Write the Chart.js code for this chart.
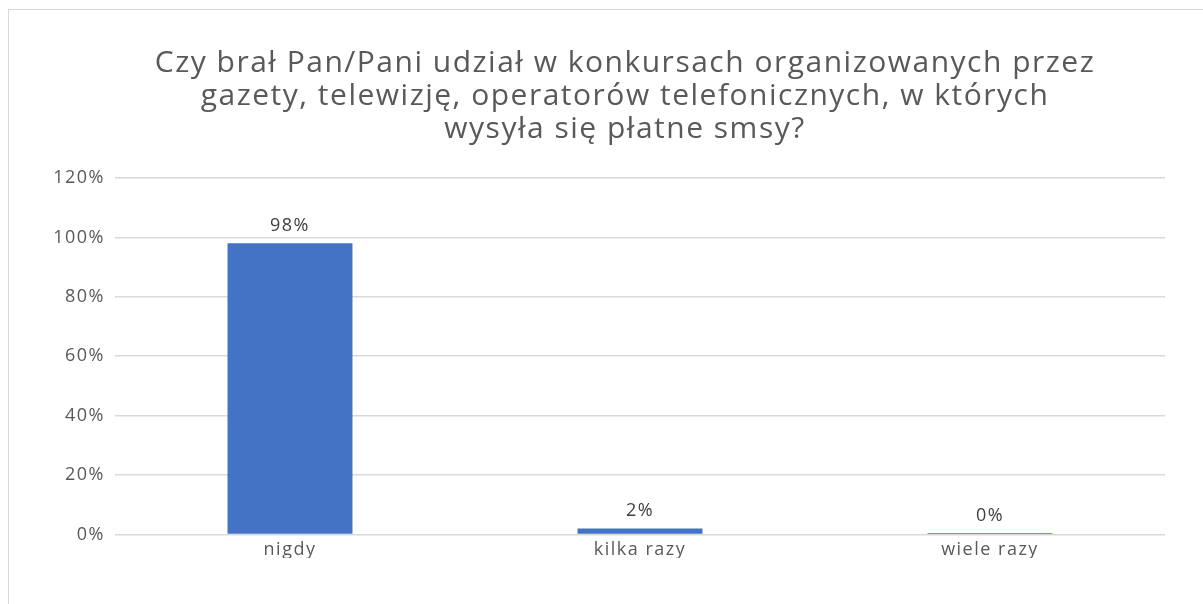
<!DOCTYPE html>
<html>
<head>
<meta charset="utf-8">
<script src="https://cdn.jsdelivr.net/npm/chart.js@4"></script>
<style>
    html, body { margin: 0; padding: 0; background: #fff; overflow: hidden; }
    .chart-frame {
        position: absolute; left: 8px; top: 9px;
        width: 1235px; height: 620px;
        border: 1px solid #d9d9d9;
    }
</style>
</head>
<body>
<div class="chart-frame">
    <canvas id="smsChart" width="1235" height="620"></canvas>
</div>

<script>
const titleLines = [
    'Czy brał Pan/Pani udział w konkursach organizowanych przez',
    'gazety, telewizję, operatorów telefonicznych, w których',
    'wysyła się płatne smsy?'
];
const categories = ['nigdy', 'kilka razy', 'wiele razy'];
const shares = [0.98, 0.02, 0.005];
const shareLabels = ['98%', '2%', '0%'];

const FONT = '"Open Sans", sans-serif';
const GREY = '#595959';

// Excel text is set a bit looser than Open Sans
const looseText = {
    id: 'looseText',
    beforeUpdate(chart) { chart.ctx.letterSpacing = '1.5px'; },
    beforeDraw(chart) { chart.ctx.letterSpacing = '1.5px'; }
};

// draws the value above each bar, like Excel data labels
const valueLabels = {
    id: 'valueLabels',
    afterDatasetsDraw(chart) {
        const ctx = chart.ctx;
        const meta = chart.getDatasetMeta(0);
        ctx.save();
        ctx.font = '18px ' + FONT;
        ctx.fillStyle = '#404040';
        ctx.textAlign = 'center';
        ctx.textBaseline = 'alphabetic';
        meta.data.forEach(function(bar, i) {
            ctx.fillText(shareLabels[i], bar.x, bar.y - 12);
        });
        ctx.restore();
    }
};

const ctx = document.getElementById('smsChart').getContext('2d');
new Chart(ctx, {
    type: 'bar',
    data: {
        labels: categories,
        datasets: [{
            data: shares,
            backgroundColor: '#4472c4',
            categoryPercentage: 1,
            barPercentage: 0.357
        }]
    },
    options: {
        responsive: false,
        animation: false,
        layout: { padding: { left: 44, right: 47, top: 0, bottom: 72 } },
        scales: {
            x: {
                grid: { display: false },
                border: { display: false },
                ticks: { color: GREY, font: { family: FONT, size: 18 }, padding: -3 }
            },
            y: {
                min: 0,
                max: 1.2,
                grid: { color: '#d9d9d9', lineWidth: 1.5, drawTicks: false },
                border: { display: false },
                afterFit: function(scale) { scale.width = 62; },
                ticks: {
                    stepSize: 0.2,
                    padding: 10,
                    color: GREY,
                    font: { family: FONT, size: 18 },
                    callback: function(value) {
                        return Math.round(value * 100) + '%';
                    }
                }
            },
            // empty spacer on the right so the title sits centred on the frame
            spacer: {
                type: 'linear',
                position: 'right',
                grid: { display: false },
                border: { display: false },
                ticks: { display: false },
                afterFit: function(scale) { scale.width = 32; }
            }
        },
        plugins: {
            legend: { display: false },
            tooltip: { enabled: false },
            title: {
                display: true,
                text: titleLines,
                color: GREY,
                font: { family: FONT, size: 30, weight: 'normal', lineHeight: 1.1 },
                padding: { top: 37, bottom: 32 }
            }
        }
    },
    plugins: [looseText, valueLabels]
});
</script>
</body>
</html>
